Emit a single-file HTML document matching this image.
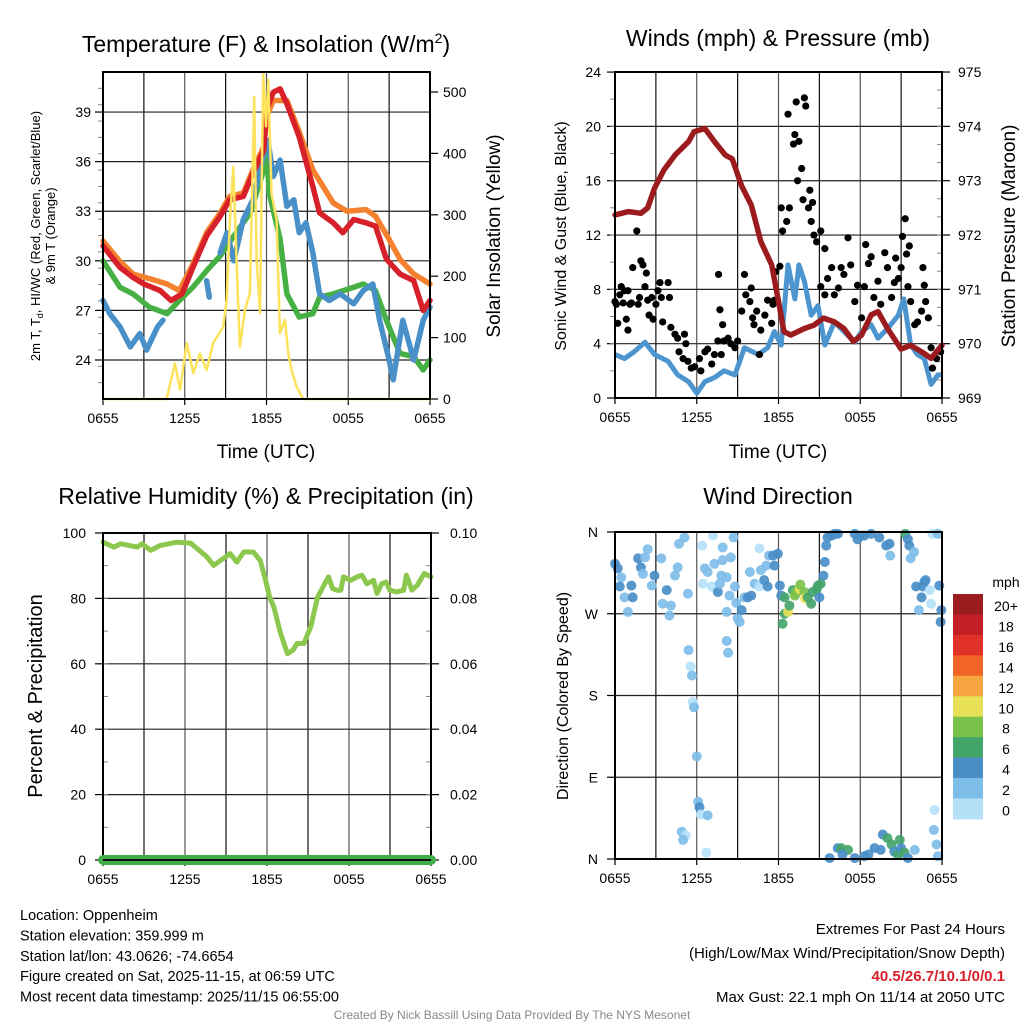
<!DOCTYPE html>
<html><head><meta charset="utf-8">
<style>
html,body{margin:0;padding:0;background:#fff;}
svg{display:block;font-family:"Liberation Sans",Arial,sans-serif;}
</style></head>
<body>
<svg id="chart" width="1024" height="1024" viewBox="0 0 1024 1024" xmlns="http://www.w3.org/2000/svg"></svg>
<script>
// ---------- DATA ----------
const timeTickLabels = ["0655","1255","1855","0055","0655"];
const tempTicks = [24,27,30,33,36,39];
const solarTicks = [0,100,200,300,400,500];
const windTicks = [0,4,8,12,16,20,24];
const presTicks = [969,970,971,972,973,974,975];
const rhTicks = [0,20,40,60,80,100];
const precipTicks = ["0.00","0.02","0.04","0.06","0.08","0.10"];
const dirTickLabels = ["N","E","S","W","N"];
const speedBins = ["0","2","4","6","8","10","12","14","16","18","20+"];

// Temperature (hours since 0655, deg F)
const tH = [0,1.25,2.2,3,4.2,5,5.8,6.6,7.6,8.6,9.3,10.3,11,11.8,12,12.5,13,13.5,14.4,15.4,15.9,16.9,17.6,18.4,19.3,20,20.8,21.8,22.8,23.5,24];
const tVal = [30.9,29.6,29.0,28.6,28.2,27.6,28.0,29.6,31.5,32.7,33.7,33.9,35.3,36.7,39.1,40.2,40.4,39.5,37.5,34.5,32.9,32.3,31.7,32.5,32.3,32.1,30.1,29.2,28.8,27.0,27.6];
const t9H = [0,1.2,2.2,3.5,4.7,5.6,6.6,7.6,8.6,9.3,10.3,11,11.8,12,12.5,13.5,14.4,15.4,16.9,17.9,19.3,20,21,21.8,22.8,24];
const t9Val = [31.2,30.0,29.2,28.9,28.6,28.2,29.8,31.7,32.9,33.9,34.1,35.5,36.9,38.7,39.7,39.7,37.8,35.5,33.5,33.0,33.1,32.7,31.3,30.1,29.2,28.6];
const tdH = [0,1.25,2.2,3.4,4.7,5.6,6.6,7.6,8.6,9.6,10.8,11.8,12,12.2,13,13.5,14.4,15.4,15.9,16.9,18.4,19.1,20,20.8,21.8,22.8,23.5,24];
const tdVal = [30.0,28.4,28.0,27.2,26.8,27.6,28.4,29.4,30.3,31.5,32.9,35.5,37.0,34.1,31.3,28.0,26.6,26.8,27.8,28.0,28.4,28.6,28.2,26.4,24.4,24.2,23.4,24.0];
const hiH = [0,0.5,1.25,2,2.7,3.2,4,4.4,null,7.6,7.8,null,8.6,9.1,9.6,10.3,11,11.8,12.1,12.5,13,13.5,14,14.4,14.9,15.4,15.9,16.6,17.4,18.4,19.1,19.8,20.3,21,21.3,22,22.8,23.5,24];
const hiVal = [27.6,26.8,26.0,24.8,25.6,24.6,26.0,26.4,null,28.8,27.8,null,30.5,31.7,30.0,32.5,33.7,36.5,37.3,35.1,36.1,33.3,33.7,31.7,32.3,30.5,28.0,27.6,28.0,27.4,28.2,28.6,26.4,24.0,22.8,26.4,24.0,26.4,27.2];
// Solar insolation (W/m2)
const solH = [0,4.67,5.28,5.65,6.14,6.63,7.11,7.6,8.09,8.83,9.07,9.32,9.56,9.8,10.05,10.42,10.78,11.1,11.27,11.52,11.76,11.96,12.13,12.37,12.74,12.98,13.35,13.6,13.84,14.2,14.7,24];
const solVal = [0,0,58,15,91,42,74,47,91,118,161,292,378,226,85,145,172,492,226,140,530,444,520,335,292,107,129,74,47,20,0,0];

// Winds & pressure
const presH = [0,1,1.9,2.4,2.9,3.6,4.4,5.4,5.8,6.6,7.3,8.1,8.6,9.3,10,10.7,11.5,11.96,12.4,12.9,13.9,14.6,15.3,16.1,16.8,17.5,18.1,18.8,19.3,20,21,21.7,22.5,23.2,24];
const presVal = [972.37,972.43,972.4,972.5,972.86,973.2,973.47,973.72,973.9,973.96,973.72,973.47,973.4,972.9,972.55,971.88,971.45,970.83,970.22,970.16,970.28,970.34,970.47,970.4,970.28,970.04,970.16,970.53,970.59,970.28,969.9,969.97,969.85,969.73,969.97];
const windH = [0,0.7,1.4,2.2,2.9,3.9,4.6,5.4,6,6.6,7.3,8,8.8,9.5,10.5,11.2,11.7,12.2,12.7,13.2,13.5,13.9,14.4,14.9,15.4,16.1,16.8,17.6,18.1,18.8,19.3,20,20.8,21.2,21.7,22.2,22.7,23.2,23.7,24];
const windVal = [3.2,2.9,3.4,4.1,3.2,2.7,1.7,1.2,0.35,1.2,1.5,2.0,1.7,3.7,3.2,3.7,4.9,3.9,9.8,7.3,9.8,8.6,6.1,6.8,3.9,5.6,4.9,4.1,4.9,5.4,4.4,5.1,6.1,7.3,3.9,3.2,2.9,1.0,1.7,1.7];
const gustH = [0,0.1,0.2,0.35,0.46,0.6,0.7,0.83,0.95,0.95,1.1,1.2,1.3,1.6,1.7,1.8,1.9,2.05,2.2,2.3,2.4,2.5,2.7,2.8,3.0,3.15,3.3,3.4,3.5,3.9,4.0,4.1,4.4,4.6,4.7,5.0,5.1,5.2,5.35,5.6,5.85,6.2,6.3,6.6,6.8,7.1,7.3,7.55,7.6,7.7,7.8,7.9,8.0,8.3,8.5,8.8,9.0,9.3,9.5,9.6,9.9,10.0,10.1,10.2,10.4,10.6,10.7,11.0,11.2,11.5,11.6,11.7,11.8,12.1,12.2,12.3,12.6,12.7,12.8,13.1,13.2,13.3,13.4,13.5,13.7,13.8,13.9,14.0,14.2,14.3,14.4,14.5,14.6,14.8,15.1,15.4,15.1,15.4,15.6,15.9,16.1,16.4,16.6,16.8,17.1,17.3,17.6,17.8,18.1,18.3,18.4,18.6,18.8,19.0,19.3,19.5,19.8,20.0,20.3,20.5,20.6,20.8,21.0,21.1,21.3,21.4,21.5,21.6,21.7,22.0,22.2,22.5,22.6,22.7,22.8,23.0,23.2,23.3,23.6,23.9];
const gustVal = [7.1,6.9,5.5,7.6,8.2,7.0,7.9,5.8,5.0,7.9,6.9,7.0,9.6,12.3,6.9,7.4,10.1,9.8,8.2,9.2,7.2,6.1,7.4,5.8,6.9,7.9,8.5,7.4,5.6,8.5,7.4,5.2,4.7,4.4,3.4,2.9,4.7,4.0,2.7,2.2,2.3,2.9,2.0,3.4,3.6,2.5,3.2,4.2,9.1,6.5,3.2,5.4,4.2,4.4,4.0,3.7,4.2,6.4,9.1,7.6,7.1,8.1,5.9,5.4,6.4,3.2,5.0,6.1,7.2,5.5,6.9,7.2,9.3,9.7,14.0,12.3,13.0,20.9,14.0,18.7,19.4,21.8,16.0,18.9,16.9,14.6,22.1,21.5,14.0,15.3,13.0,14.4,12.0,11.5,12.3,11.0,8.2,7.6,8.8,9.6,7.6,8.1,9.6,9.1,11.8,9.8,7.1,8.3,5.9,8.2,11.3,9.9,10.4,7.4,8.6,6.9,10.7,9.6,7.4,8.5,10.3,8.8,9.6,11.9,13.2,10.6,8.2,11.2,7.1,5.4,5.6,6.4,9.6,8.3,7.1,5.9,3.7,2.2,2.9,3.4];

// Relative humidity (%)
const rhH = [0,0.8,1.3,2.5,2.85,3.5,4.2,5.4,6.4,6.9,7.6,8.1,8.6,9.3,9.8,10.3,11.0,11.5,11.9,12.2,12.5,13.0,13.5,13.9,14.2,14.7,15.2,15.7,16.1,16.5,16.8,17.1,17.4,17.6,18.1,18.6,18.95,19.3,19.8,20.05,20.4,20.7,21.0,21.5,22.0,22.2,22.6,23.0,23.5,24];
const rhVal = [97.2,95.7,96.7,95.7,96.7,94.7,96.2,97.2,96.9,95.2,92.7,90.1,91.6,93.7,91.1,94.2,94.2,91.6,85.5,80.4,77.4,69.2,63.1,64.2,66.2,66.2,71.3,80.4,83.5,86.6,83.0,82.5,82.5,86.6,85.5,86.6,87.1,84.5,85.5,81.5,84.5,85.0,82.5,82.0,82.5,87.1,82.5,84.0,87.6,86.6];
const precipH = [0,24];
const precipVal = [0,0];

// Wind direction (deg) & speed (mph)
const dirH = [0,0.2,0.46,0.35,0.7,0.95,1.3,1.2,1.7,1.9,2.2,2.4,2.05,2.7,2.9,3.4,3.5,3.8,4.0,4.1,4.4,4.6,4.7,5.1,5.35,5.4,5.55,5.65,5.7,5.8,6.0,6.1,6.2,6.3,6.8,4.9,5.2,5.0,6.7,6.4,6.45,6.6,6.8,7.1,7.2,7.3,7.55,7.7,7.9,7.9,7.8,8.2,8.2,8.2,8.3,8.4,8.5,8.7,8.8,8.9,9.0,9.15,9.3,9.5,9.75,10.0,9.9,10.25,10.6,10.6,10.7,10.95,11.1,11.2,11.3,11.6,11.7,11.95,12.1,12.2,12.3,12.45,12.45,12.7,12.8,13.05,13.2,13.3,13.55,13.6,13.9,13.95,14.15,14.4,14.5,14.8,14.9,15.0,15.1,15.3,15.4,15.5,15.6,15.9,16.1,16.35,17.6,17.8,18.1,18.3,18.8,19.4,19.9,20.15,20.2,21.3,21.5,21.6,21.7,21.95,22.1,22.3,22.5,22.6,22.7,22.8,23.1,23.2,23.3,23.7,23.8,23.9,23.95,15.75,16.35,16.6,17.1,16.7,17.6,18.3,18.6,19.05,19.5,19.65,20.0,20.3,20.5,20.75,20.9,21.0,21.25,21.5,22.0,23.45,23.4,23.6,23.7];
const dirDeg = [325,320,310,300,288,272,288,301,331,321,332,341,314,301,312,331,281,296,268,279,312,321,347,354,292,230,212,202,173,167,113,63,57,49,48,30,26,21,7,345,303,320,316,300,356,325,294,303,343,329,312,310,272,240,227,290,332,354,300,282,265,261,274,288,288,290,316,303,342,300,318,307,323,300,334,334,323,336,301,290,259,270,288,272,279,296,290,294,297,302,294,287,288,281,294,297,301,288,303,312,327,345,354,356,358,358,358,352,356,356,358,354,345,347,334,358,352,345,331,338,300,274,288,300,305,307,296,281,358,358,301,261,274,1,12,12,10,5,1,3,5,12,10,27,23,16,8,5,21,12,7,1,10,54,32,16,3];
const dirSpd = [5,5,3,5,3,3,5,5,5,5,3,3,3,3,5,3,3,5,3,3,3,3,3,3,3,3,1,3,1,3,3,3,5,1,3,3,1,3,1,1,1,3,3,1,1,3,5,3,3,3,3,3,3,3,3,3,3,3,3,3,3,3,5,3,5,5,3,3,1,1,3,5,3,5,3,5,5,5,5,5,7,7,7,11,7,7,9,9,11,9,9,11,7,7,7,7,7,5,7,5,5,5,5,5,5,5,5,5,5,5,5,5,5,5,3,7,5,5,3,3,5,3,5,5,5,5,1,1,1,3,5,5,5,5,5,7,7,5,5,5,5,5,5,5,7,7,5,7,7,5,7,5,3,1,3,3,3];

// ---------- DRAW ----------
const svg = document.getElementById('chart');
const NS = 'http://www.w3.org/2000/svg';
function mk(tag, attrs, parent){
  const e = document.createElementNS(NS, tag);
  for (const k in attrs) e.setAttribute(k, attrs[k]);
  (parent||svg).appendChild(e);
  return e;
}
function txt(s, x, y, size, anchor, parent, extra){
  const e = mk('text', Object.assign({x:x, y:y, 'font-size':size, 'text-anchor':anchor||'middle', fill:'#000'}, extra||{}), parent);
  e.textContent = s;
  return e;
}
function pathFrom(xs, ys, fx, fy){
  let d = '', pen = false;
  for (let i=0;i<xs.length;i++){
    if (xs[i]===null || ys[i]===null){ pen=false; continue; }
    d += (pen?'L':'M') + fx(xs[i]).toFixed(1) + ',' + fy(ys[i]).toFixed(1);
    pen = true;
  }
  return d;
}

function panel(name, L, R, T, B){
  const g = mk('g', {});
  
  
  const fx = h => L + h*(R-L)/24;
  for (let h=3; h<24; h+=3){
    const l = mk('line', {x1:fx(h), x2:fx(h), y1:T, y2:B, stroke:(h%6===0?'#555':'#111'), 'stroke-width':1.2}, g);
    
    
  }
  timeTickLabels.forEach((s,i)=>{
    const t = txt(s, fx(i*6), B+24, 14, 'middle', g);
    
    
    mk('line',{x1:fx(i*6),x2:fx(i*6),y1:B,y2:B+6,stroke:'#000','stroke-width':1.2}, g);
  });
  return {g, fx};
}
function frame(g, L, R, T, B){
  const r = mk('rect', {x:L, y:T, width:R-L, height:B-T, fill:'none', stroke:'#000', 'stroke-width':2}, g);
  
  
}
function hgrid(g, L, R, y){
  const l = mk('line', {x1:L, x2:R, y1:y, y2:y, stroke:'#222', 'stroke-width':1.2}, g);
  
  
}
function minorTicks(g, x, y0, y1, n, dir){
  for (let i=1;i<n;i++){
    const y = y0 + (y1-y0)*i/n;
    mk('line',{x1:x,x2:x+dir*5,y1:y,y2:y,stroke:'#888','stroke-width':1}, g);
  }
}

// ===== Panel 1: Temperature & Insolation =====
{
  const L=103,R=430,T=72,B=399;
  const {g, fx} = panel('temperature-panel', L,R,T,B);
  const yT = t => 360 - (t-24)*16.53;
  const yS = w => 399 - w*0.614;
  tempTicks.forEach(t=>{
    hgrid(g,L,R,yT(t));
    mk('line',{x1:L-8,x2:L,y1:yT(t),y2:yT(t),stroke:'#000','stroke-width':1.2},g);
    const e = txt(String(t), L-12, yT(t)+5, 14, 'end', g);
    
    
  });
  minorTicks(g, L, 72, 399, 20, -1);
  solarTicks.forEach(w=>{
    mk('line',{x1:R,x2:R+8,y1:yS(w),y2:yS(w),stroke:'#000','stroke-width':1.2},g);
    const e = txt(String(w), R+13, yS(w)+5, 14, 'start', g);
    
    
  });
  const series = [
    ['dewpoint-line', tdH, tdVal, '#46b045', 5.5, yT],
    ['heat-index-line', hiH, hiVal, '#4a90c8', 5.5, yT],
    ['temp-9m-line', t9H, t9Val, '#f4812e', 5.5, yT],
    ['temp-2m-line', tH, tVal, '#d7202a', 5.5, yT],
    ['solar-line', solH, solVal, '#fde25c', 2.5, yS]
  ];
  series.forEach(s=>{
    const p = mk('path',{d:pathFrom(s[1],s[2],fx,s[5]), fill:'none', stroke:s[3], 'stroke-width':s[4], 'stroke-linejoin':'round','stroke-linecap':'round'}, g);
    
    
  });
  frame(g,L,R,T,B);
  const ti = txt('', 266, 52, 23, 'middle', g);
  
  
  ti.innerHTML = 'Temperature (F) &amp; Insolation (W/m<tspan dy="-9" font-size="14">2</tspan><tspan dy="9">)</tspan>';
  const xl = txt('Time (UTC)', 266, 458, 19, 'middle', g);
  
  
  const yl1 = txt('', 0, 0, 13, 'middle', g, {transform:'translate(40,236) rotate(-90)'});
  yl1.innerHTML = '2m T, T<tspan dy="3" font-size="9">d</tspan><tspan dy="-3">, HI/WC (Red, Green, Scarlet/Blue)</tspan>';
  
  
  const yl2 = txt('& 9m T (Orange)', 0, 0, 13, 'middle', g, {transform:'translate(55,236) rotate(-90)'});
  
  
  const yr = txt('Solar Insolation (Yellow)', 0, 0, 19, 'middle', g, {transform:'translate(500,236) rotate(-90)'});
  
  
}

// ===== Panel 2: Winds & Pressure =====
{
  const L=615,R=942,T=72,B=398;
  const {g, fx} = panel('wind-panel', L,R,T,B);
  const yW = m => 398 - m*13.58;
  const yP = p => 398 - (p-969)*54.33;
  windTicks.forEach(m=>{
    hgrid(g,L,R,yW(m));
    mk('line',{x1:L-8,x2:L,y1:yW(m),y2:yW(m),stroke:'#000','stroke-width':1.2},g);
    const e = txt(String(m), L-14, yW(m)+5, 14, 'end', g);
    
    
  });
  minorTicks(g, L, 72, 398, 12, -1);
  presTicks.forEach(p=>{
    mk('line',{x1:R,x2:R+8,y1:yP(p),y2:yP(p),stroke:'#000','stroke-width':1.2},g);
    const e = txt(String(p), R+16, yP(p)+5, 14, 'start', g);
    
    
  });
  minorTicks(g, R, 72, 398, 18, -1);
  const wl = mk('path',{d:pathFrom(windH,windVal,fx,yW), fill:'none', stroke:'#4d95cf','stroke-width':5,'stroke-linejoin':'round'}, g);
  
  
  gustH.forEach((h,i)=>{
    const c = mk('circle',{cx:fx(h), cy:yW(gustVal[i]), r:3.6, fill:'#000'}, g);
    
    
  });
  const pl = mk('path',{d:pathFrom(presH,presVal,fx,yP), fill:'none', stroke:'#9b1b1e','stroke-width':5.5,'stroke-linejoin':'round','stroke-linecap':'round'}, g);
  
  
  frame(g,L,R,T,B);
  const ti = txt('Winds (mph) & Pressure (mb)', 778, 46, 23, 'middle', g);
  
  
  const xl = txt('Time (UTC)', 778, 458, 19, 'middle', g);
  
  
  const yl = txt('Sonic Wind & Gust (Blue, Black)', 0, 0, 16, 'middle', g, {transform:'translate(566,236) rotate(-90)'});
  
  
  const yr = txt('Station Pressure (Maroon)', 0, 0, 19, 'middle', g, {transform:'translate(1015,236) rotate(-90)'});
  
  
}

// ===== Panel 3: RH & Precip =====
{
  const L=103,R=431,T=533,B=860;
  const {g, fx} = panel('humidity-panel', L,R,T,B);
  const yR = r => 860 - r*3.27;
  const yPr = p => 860 - p*3270;
  rhTicks.forEach((r,i)=>{
    hgrid(g,L,R,yR(r));
    mk('line',{x1:L-8,x2:L,y1:yR(r),y2:yR(r),stroke:'#000','stroke-width':1.2},g);
    const e = txt(String(r), L-17, yR(r)+5, 14, 'end', g);
    
    
    mk('line',{x1:R,x2:R+8,y1:yR(r),y2:yR(r),stroke:'#000','stroke-width':1.2},g);
    const f = txt(precipTicks[i], R+19, yR(r)+5, 14, 'start', g);
    
    
  });
  minorTicks(g, L, T, B, 10, 1);
  minorTicks(g, R, T, B, 10, -1);
  const rl = mk('path',{d:pathFrom(rhH,rhVal,fx,yR), fill:'none', stroke:'#8dc84e','stroke-width':5,'stroke-linejoin':'round','stroke-linecap':'round'}, g);
  
  
  frame(g,L,R,T,B);
  const pl = mk('path',{d:pathFrom(precipH,precipVal,fx,yPr), fill:'none', stroke:'#40ad48','stroke-width':10,'stroke-linecap':'round'}, g);
  
  
  mk('line',{x1:L,x2:R,y1:B,y2:B,stroke:'#111','stroke-width':2},g);
  const ti = txt('Relative Humidity (%) & Precipitation (in)', 266, 504, 23, 'middle', g);
  
  
  const yl = txt('Percent & Precipitation', 0, 0, 20, 'middle', g, {transform:'translate(42,696) rotate(-90)'});
  
  
}

// ===== Panel 4: Wind direction =====
{
  const L=615,R=942,T=532,B=859;
  const {g, fx} = panel('wind-direction-panel', L,R,T,B);
  const yD = d => 859 - d*(327/360);
  const binColors = ['#b5e1f8','#7fbde9','#4a8ec8','#44a56b','#7bc24d','#e8e057','#f7a541','#f26529','#df3127','#c11e26','#9b1c1f'];
  dirTickLabels.forEach((s,i)=>{
    const d = i*90;
    hgrid(g,L,R,yD(d));
    mk('line',{x1:L-8,x2:L,y1:yD(d),y2:yD(d),stroke:'#000','stroke-width':1.2},g);
    const e = txt(s, L-17, yD(d)+5, 14, 'end', g);
    
    
  });
  dirH.forEach((h,i)=>{
    const bin = Math.min(10, Math.floor(dirSpd[i]/2));
    const c = mk('circle',{cx:fx(h), cy:yD(dirDeg[i]), r:5, fill:binColors[bin], 'fill-opacity':0.92}, g);
    
    
  });
  frame(g,L,R,T,B);
  const cb = mk('g',{},g);
  
  
  const cbT=594, cbH=20.45;
  speedBins.forEach((s,i)=>{
    const k = 10-i;
    const y = cbT + i*cbH;
    const r = mk('rect',{x:953,y:y,width:30,height:cbH+0.5,fill:binColors[k]},cb);
    
    
    const t = txt(speedBins[k], 1006, y+17, 14, 'middle', cb);
    
    
  });
  const u = txt('mph', 1006, 587, 14, 'middle', cb);
  
  
  const ti = txt('Wind Direction', 778, 504, 23, 'middle', g);
  
  
  const yl = txt('Direction (Colored By Speed)', 0, 0, 16, 'middle', g, {transform:'translate(568,696) rotate(-90)'});
  
  
}

// ===== Footer text =====
{
  const g = mk('g',{});
  
  
  const lines = ['Location: Oppenheim','Station elevation: 359.999 m','Station lat/lon: 43.0626; -74.6654','Figure created on Sat, 2025-11-15, at 06:59 UTC','Most recent data timestamp: 2025/11/15 06:55:00'];
  lines.forEach((s,i)=>{
    const t = txt(s, 20, 920+i*20.4, 14.5, 'start', g);
    
    
  });
  const g2 = mk('g',{});
  
  
  const a = txt('Extremes For Past 24 Hours', 1005, 934, 15, 'end', g2);
  
  
  const b = txt('(High/Low/Max Wind/Precipitation/Snow Depth)', 1005, 958, 15, 'end', g2);
  
  
  const c = txt('40.5/26.7/10.1/0/0.1', 1005, 981, 15, 'end', g2, {fill:'#d7202a','font-weight':'bold'});
  
  
  const d = txt('Max Gust: 22.1 mph On 11/14 at 2050 UTC', 1005, 1002, 15, 'end', g2);
  
  
  const e = txt('Created By Nick Bassill Using Data Provided By The NYS Mesonet', 512, 1019, 12, 'middle', null, {fill:'#888'});
  
  
}
</script>
</body></html>
